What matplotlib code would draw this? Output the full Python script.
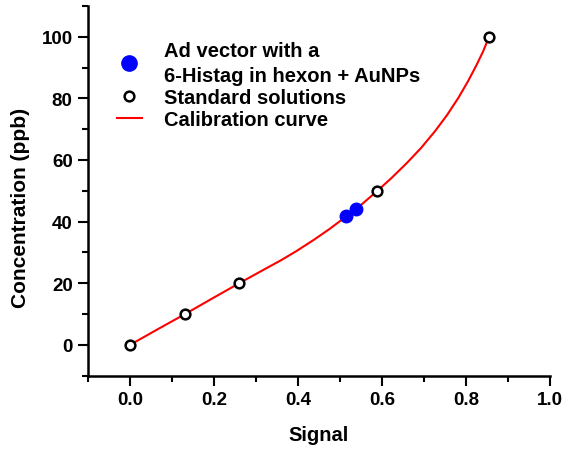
import matplotlib
matplotlib.use('Agg')
import matplotlib.pyplot as plt
from matplotlib.ticker import MultipleLocator

plt.rcParams['font.family'] = ['Liberation Sans', 'DejaVu Sans']
plt.rcParams['font.weight'] = 'bold'

# standard solutions (open circles)
std_signal = [0.0, 0.131, 0.26, 0.589, 0.855]
std_conc = [0, 10, 20, 50, 100]

# Ad vector samples (blue dots)
sample_signal = [0.514, 0.537]
sample_conc = [41.7, 44.1]

# calibration curve
curve_signal = [0.0, 0.065, 0.131, 0.195, 0.26, 0.317, 0.36, 0.397, 0.44, 0.476, 0.514,
                0.55, 0.589, 0.623, 0.659, 0.693, 0.726, 0.755, 0.782, 0.805, 0.825, 0.841, 0.855]
curve_conc = [0, 5.0, 10, 15.0, 20, 24.3, 27.5, 30.5, 34.3, 37.7, 41.6,
              45.4, 50, 54.2, 59.0, 63.9, 69.3, 74.6, 80.2, 85.6, 90.8, 95.3, 100]

fig = plt.figure(figsize=(5.66, 4.52), dpi=100)
ax = fig.add_axes([0.1555, 0.1666, 0.8162, 0.8181])

ax.plot(curve_signal, curve_conc, color='red', lw=1.5, label='Calibration curve', zorder=2)
ax.plot(sample_signal, sample_conc, 'o', color='blue', ms=9, mec='blue',
        label='Ad vector with a\n6-Histag in hexon + AuNPs', zorder=3)
ax.plot(std_signal, std_conc, 'o', mfc='white', mec='black', mew=1.8, ms=7,
        label='Standard solutions', zorder=4)

ax.set_xlim(-0.1, 1.0)
ax.set_ylim(-10, 110)
ax.xaxis.set_major_locator(MultipleLocator(0.2))
ax.xaxis.set_minor_locator(MultipleLocator(0.1))
ax.yaxis.set_minor_locator(MultipleLocator(10))
ax.set_yticks([0, 20, 40, 60, 80, 100])

for side in ['top', 'right']:
    ax.spines[side].set_visible(False)
for side in ['left', 'bottom']:
    ax.spines[side].set_linewidth(1.8)

ax.tick_params(which='major', direction='out', length=7, width=1.5, labelsize=13.5, pad=4)
ax.tick_params(which='minor', direction='out', length=4, width=1.5)

ax.set_xlabel('Signal', fontsize=14.5, fontweight='bold', labelpad=12)
ax.set_ylabel('Concentration (ppb)', fontsize=15, fontweight='bold')
ax.yaxis.set_label_coords(-0.125, 0.4575)

h, l = ax.get_legend_handles_labels()
order = [1, 2, 0]
leg = ax.legend([h[i] for i in order], [l[i] for i in order], loc='upper left',
                bbox_to_anchor=(0.062, 0.904), frameon=False, fontsize=14.5,
                handlelength=1.25, handletextpad=1.1, labelspacing=0.15,
                borderpad=0, borderaxespad=0)
for t in leg.get_texts():
    t.set_linespacing(1.35)
leg.legend_handles[0].set_markersize(11)

fig.savefig('out.png', dpi=100)
